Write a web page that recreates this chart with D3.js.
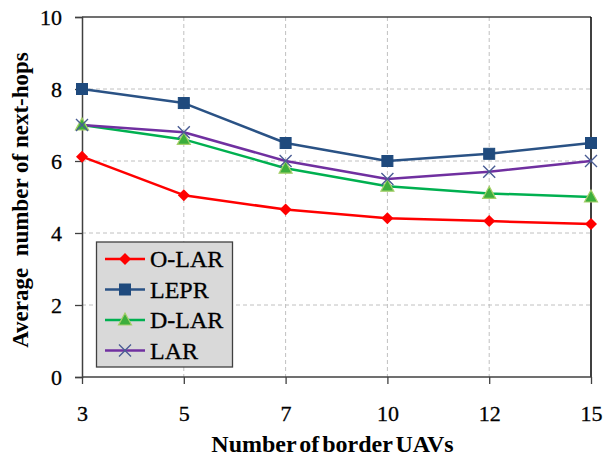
<!DOCTYPE html>
<html><head><meta charset="utf-8">
<script src="https://cdn.jsdelivr.net/npm/d3@7"></script>
<style>body{margin:0;background:#fff}svg{display:block}</style>
</head><body>
<svg id="c" width="605" height="456"></svg>
<script>
const categories = ["3","5","7","10","12","15"];
const yTicks = [0,2,4,6,8,10];
const seriesNames = ["O-LAR","LEPR","D-LAR","LAR"];
const oLar = [6.12,5.05,4.65,4.41,4.33,4.25];
const lepr = [8.0,7.61,6.5,6.0,6.2,6.5];
const dLar = [7.0,6.6,5.8,5.3,5.1,5.0];
const lar  = [7.0,6.8,6.0,5.5,5.7,6.0];

const svg = d3.select("#c");
const L=82,R=591,T=17,B=377;
const x = d3.scalePoint().domain(categories).range([L,R]);
const y = d3.scaleLinear().domain([0,10]).range([B,T]);
const serif = "Liberation Serif, Times New Roman, serif";

// grid
svg.append("g").selectAll("line").data(yTicks.filter(d=>d>0&&d<10)).join("line")
  .attr("x1",L).attr("x2",R).attr("y1",d=>y(d)).attr("y2",d=>y(d))
  .attr("stroke","#c0c0c0").attr("stroke-dasharray","4,3").attr("stroke-width",1);
svg.append("g").selectAll("line").data(categories.slice(1,-1)).join("line")
  .attr("x1",d=>x(d)).attr("x2",d=>x(d)).attr("y1",T).attr("y2",B)
  .attr("stroke","#c0c0c0").attr("stroke-dasharray","4,3").attr("stroke-width",1);
// frame
svg.append("line").attr("x1",L).attr("x2",R).attr("y1",T).attr("y2",T).attr("stroke","#404040").attr("stroke-width",1.3);
svg.append("line").attr("x1",R).attr("x2",R).attr("y1",T).attr("y2",B).attr("stroke","#000").attr("stroke-width",1.5);

// axes
const ya = svg.append("g").attr("transform",`translate(${L},0)`)
  .call(d3.axisLeft(y).tickValues(yTicks).tickSize(7).tickPadding(13));
const xa = svg.append("g").attr("transform",`translate(0,${B})`)
  .call(d3.axisBottom(x).tickSize(7).tickPadding(21));
[ya,xa].forEach(a=>{
  a.attr("font-family",serif).attr("font-size",22);
  a.select(".domain").attr("stroke","#404040").attr("stroke-width",1.5);
  a.selectAll(".tick line").attr("stroke","#404040").attr("stroke-width",1.3);
  a.selectAll("text").style("font-family",serif).style("font-size","22px").attr("fill","#000")
    .attr("stroke","#000").attr("stroke-width",0.3);
});
xa.select(".domain").attr("d",`M${L},0H${R}`);
xa.selectAll(".tick line").attr("y1",0);

// titles
svg.append("text").attr("x",(L+R)/2-4).attr("y",452).attr("text-anchor","middle")
  .style("font-family",serif).attr("font-weight","bold").style("font-size","24px").style("word-spacing","-3px")
  .text("Number of border UAVs");
svg.append("text").attr("transform",`translate(28,200) rotate(-90)`).attr("text-anchor","middle")
  .style("font-family",serif).attr("font-weight","bold").style("font-size","23px").attr("xml:space","preserve")
  .text("Average  number of next-hops");

const data = [
  {name:seriesNames[0],vals:oLar,color:"#ff0000",marker:"diamond"},
  {name:seriesNames[1],vals:lepr,color:"#2a5285",marker:"square"},
  {name:seriesNames[2],vals:dLar,color:"#00b050",marker:"triangle"},
  {name:seriesNames[3],vals:lar,color:"#7030a0",marker:"cross"}
];
const line = d3.line().x((d,i)=>x(categories[i])).y(d=>y(d));

function drawMarker(g,type,cx,cy){
  if(type==="diamond"){
    g.append("path").attr("d",`M${cx},${cy-6}L${cx+6},${cy}L${cx},${cy+6}L${cx-6},${cy}Z`).attr("fill","#ff0000");
  } else if(type==="square"){
    g.append("rect").attr("x",cx-5.5).attr("y",cy-5.5).attr("width",11).attr("height",11).attr("fill","#1f4a7d").attr("stroke","#1f4a7d");
  } else if(type==="triangle"){
    g.append("path").attr("d",`M${cx},${cy-7}L${cx+6.5},${cy+5}L${cx-6.5},${cy+5}Z`).attr("fill","#3cae3c").attr("stroke","#a6cf6a").attr("stroke-width",1.2);
  } else {
    g.append("path").attr("d",`M${cx-6},${cy-6}L${cx+6},${cy+6}M${cx+6},${cy-6}L${cx-6},${cy+6}`).attr("stroke","#4a5d94").attr("stroke-width",1.4);
  }
}

data.forEach(s=>{
  svg.append("path").datum(s.vals).attr("d",line).attr("fill","none")
    .attr("stroke",s.color).attr("stroke-width",2.5).attr("stroke-linejoin","round");
});
data.forEach(s=>{
  const g = svg.append("g");
  s.vals.forEach((v,i)=>drawMarker(g,s.marker,x(categories[i]),y(v)));
});

// legend
const lg = svg.append("g");
lg.append("rect").attr("x",96.5).attr("y",242).attr("width",136).attr("height",125)
  .attr("fill","#d9d9d9").attr("stroke","#404040").attr("stroke-width",1.3);
data.forEach((s,i)=>{
  const cy = 259 + i*30.5;
  lg.append("line").attr("x1",105).attr("x2",145).attr("y1",cy).attr("y2",cy).attr("stroke",s.color).attr("stroke-width",2.5);
  drawMarker(lg,s.marker,125,cy);
  lg.append("text").attr("x",150).attr("y",cy+8).style("font-family",serif).style("font-size","24px")
    .attr("stroke","#000").attr("stroke-width",0.3).text(s.name);
});
</script>
</body></html>
